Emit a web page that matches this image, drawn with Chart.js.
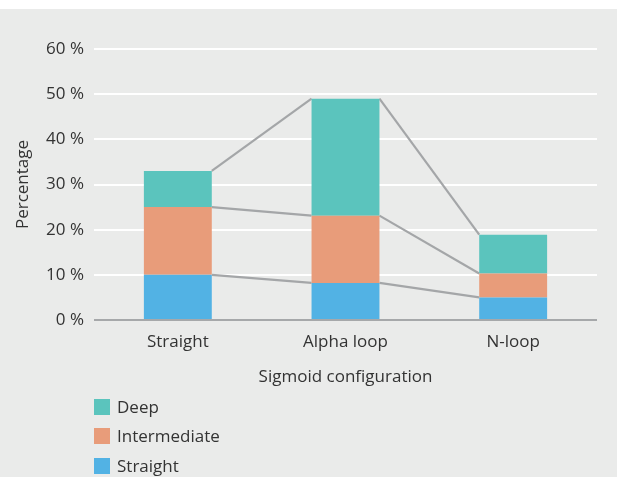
<!DOCTYPE html>
<html>
<head>
<meta charset="utf-8">
<script src="https://cdn.jsdelivr.net/npm/chart.js@4/dist/chart.umd.min.js"></script>
<style>
  html, body { margin: 0; padding: 0; background: #ffffff; }
  #panel { position: absolute; left: 0; top: 9px; width: 617px; height: 468px; background: #eaebea; }
  #chart { position: absolute; left: 0; top: 0; }
  #legend { position: absolute; left: 94px; top: 390px; display: flex; flex-direction: column; gap: 13.3px;
            font-family: "Open Sans", sans-serif; font-size: 17px; color: #333333; }
  .item { display: flex; align-items: center; height: 16px; line-height: 16px; }
  .swatch { width: 16px; height: 16px; margin-right: 7px; }
</style>
</head>
<body>
<div id="panel">
  <canvas id="chart" width="617" height="468"></canvas>
  <div id="legend"></div>
</div>
<script>
// Sigmoid configuration categories and the share (%) of each position depth
const categories = ['Straight', 'Alpha loop', 'N-loop'];
const straightValues = [10, 8.2, 5];
const intermediateValues = [15, 14.9, 5.3];
const deepValues = [8, 25.9, 8.6];
const yTicks = [0, 10, 20, 30, 40, 50, 60];

const seriesColors = { straight: '#52b2e4', intermediate: '#e89c7a', deep: '#5bc4bd' };
const FONT = '"Open Sans", sans-serif';
const TEXT = '#333333';

// Grey connectors between the cumulative tops of neighbouring stacks
const connectorPlugin = {
  id: 'connectors',
  beforeDatasetsDraw(chart) {
    const ctx = chart.ctx;
    ctx.save();
    ctx.strokeStyle = '#a4a6a8';
    ctx.lineWidth = 2.2;
    chart.data.datasets.forEach((ds, d) => {
      const els = chart.getDatasetMeta(d).data;
      for (let i = 0; i < els.length - 1; i++) {
        const a = els[i], b = els[i + 1];
        ctx.beginPath();
        ctx.moveTo(a.x + a.width / 2, a.y);
        ctx.lineTo(b.x - b.width / 2, b.y);
        ctx.stroke();
      }
    });
    ctx.restore();
  }
};

const chart = new Chart(document.getElementById('chart'), {
  type: 'bar',
  data: {
    labels: categories,
    datasets: [
      { label: 'Straight', data: straightValues, backgroundColor: seriesColors.straight },
      { label: 'Intermediate', data: intermediateValues, backgroundColor: seriesColors.intermediate },
      { label: 'Deep', data: deepValues, backgroundColor: seriesColors.deep }
    ]
  },
  options: {
    responsive: false,
    animation: false,
    layout: { padding: { left: 0, right: 20, top: 40, bottom: 90 } },
    datasets: { bar: { categoryPercentage: 1, barPercentage: 0.405, borderWidth: 0 } },
    plugins: { legend: { display: false }, tooltip: { enabled: false } },
    scales: {
      x: {
        stacked: true,
        grid: { display: false },
        border: { display: false },
        ticks: { color: TEXT, font: { family: FONT, size: 17 }, padding: 4 },
        title: { display: true, text: 'Sigmoid configuration', color: TEXT,
                 font: { family: FONT, size: 17 }, padding: 0 },
        afterFit(scale) { scale.height = 67; }
      },
      y: {
        stacked: true,
        min: 0, max: 60,
        afterBuildTicks(scale) { scale.ticks = yTicks.map(v => ({ value: v })); },
        grid: {
          drawTicks: false,
          lineWidth: 2,
          color: c => (c.tick && c.tick.value === 0) ? '#a6a8aa' : '#ffffff'
        },
        border: { display: false },
        ticks: { color: TEXT, font: { family: FONT, size: 17 }, padding: 10,
                 callback: v => v + ' %' },
        title: { display: true, text: 'Percentage', color: TEXT,
                 font: { family: FONT, size: 17 }, padding: { top: 13, bottom: 0 } },
        afterFit(scale) { scale.width = 94; }
      }
    }
  },
  plugins: [connectorPlugin]
});

// Legend listed top-down: Deep, Intermediate, Straight
const legend = document.getElementById('legend');
chart.data.datasets.slice().reverse().forEach(ds => {
  const item = document.createElement('div');
  item.className = 'item';
  const sw = document.createElement('span');
  sw.className = 'swatch';
  sw.style.background = ds.backgroundColor;
  const label = document.createElement('span');
  label.textContent = ds.label;
  item.appendChild(sw);
  item.appendChild(label);
  legend.appendChild(item);
});
</script>
</body>
</html>
